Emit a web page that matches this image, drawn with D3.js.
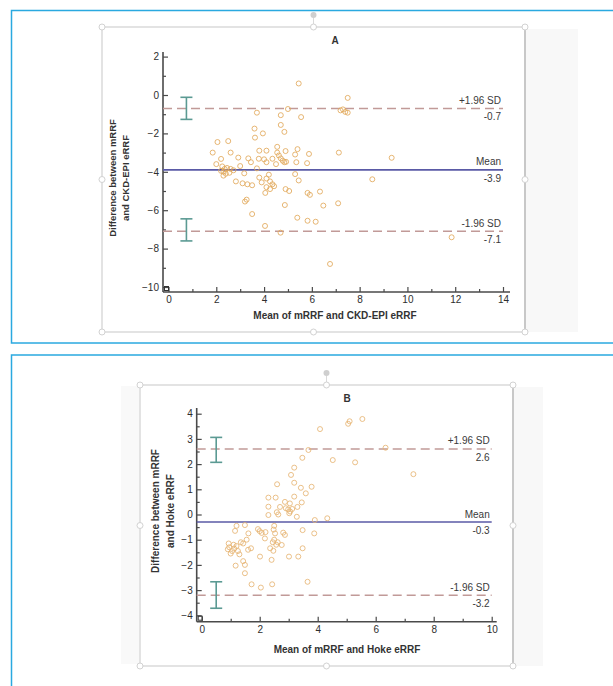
<!DOCTYPE html>
<html><head><meta charset="utf-8">
<script src="https://cdn.jsdelivr.net/npm/d3@7"></script>
<style>
body{margin:0;background:#fff;}
svg{display:block;font-family:'Liberation Sans',Arial,sans-serif;}
.tick text{font-size:10px;fill:#2e2e2e;}
</style></head><body>
<svg id="fig" width="613" height="686"></svg>
<script>
/* ---- data: panel A (mRRF vs CKD-EPI eRRF) ---- */
const ckdMean=[5.45,7.5,7.2,7.3,7.4,7.5,5.0,3.7,4.7,5.55,4.7,4.85,3.6,3.62,3.95,2.05,2.5,1.85,2.6,2.2,
  2.92,3.34,3.45,3.8,4.1,4.55,4.55,4.62,4.9,5.4,5.3,5.88,7.13,3.78,4.0,4.1,4.35,4.7,4.78,4.85,
  4.92,5.35,5.8,2.25,2.35,2.3,2.45,2.6,2.72,2.4,2.3,2.55,2.2,3.17,3.7,2.82,3.1,3.3,3.5,3.8,
  3.9,4.1,4.2,4.25,4.35,4.42,4.1,4.25,4.05,4.9,5.05,5.3,5.45,5.82,5.92,6.34,6.48,7.1,3.2,3.27,
  3.5,4.87,5.39,5.82,6.16,4.04,4.69,8.53,6.76,9.34,11.85,2.0,4.5,3.0];
const ckdDiff=[0.6,-0.15,-0.8,-0.75,-0.88,-0.92,-0.73,-0.92,-1.05,-1.15,-1.56,-1.92,-1.75,-2.22,-2.0,-2.45,-2.4,-3.0,-3.0,-3.33,
  -3.26,-3.3,-3.5,-2.9,-2.9,-2.7,-3.0,-3.15,-2.92,-2.82,-3.1,-3.07,-3.0,-3.32,-3.35,-3.5,-3.32,-3.3,-3.42,-3.5,
  -3.48,-3.5,-3.55,-3.72,-3.85,-4.0,-3.8,-3.85,-3.92,-4.1,-4.2,-4.05,-3.95,-4.08,-3.82,-4.5,-4.6,-4.65,-4.7,-4.3,
  -4.55,-4.35,-4.15,-4.5,-4.65,-4.75,-4.8,-4.9,-5.1,-4.9,-5.0,-4.12,-4.45,-5.1,-5.2,-5.03,-5.76,-5.64,-5.55,-5.45,
  -6.2,-5.73,-6.39,-6.55,-6.6,-6.82,-7.17,-4.39,-8.8,-3.27,-7.41,-3.6,-3.6,-3.7];
const ckdLimits=[-0.7,-3.9,-7.1];
const ckdLimitText=['-0.7','-3.9','-7.1'];
const ckdCI=[[-0.12,-1.27],[-6.45,-7.6]];
const ckdXTicks=[0,2,4,6,8,10,12,14];
const ckdYTicks=[-10,-8,-6,-4,-2,0,2];

/* ---- data: panel B (mRRF vs Hoke eRRF) ---- */
const hokeMean=[5.54,5.05,5.1,4.08,6.34,3.68,3.47,4.52,5.29,7.3,3.19,3.08,3.19,2.6,3.79,3.42,3.59,3.19,2.3,2.55,
  3.45,2.87,3.04,2.3,2.9,2.98,3.05,3.12,3.02,2.59,2.64,2.3,3.28,3.9,4.33,1.49,1.94,2.0,2.07,2.5,
  2.48,2.53,3.48,3.88,2.81,2.87,1.15,1.61,1.55,1.43,2.18,2.5,2.45,2.62,2.57,2.36,2.47,2.76,0.93,0.95,
  0.9,1.05,1.12,1.2,1.25,1.3,1.0,1.7,2.01,3.01,3.33,3.48,2.41,1.43,1.49,1.17,1.49,1.72,2.04,2.43,
  3.65,1.2,1.35,1.6,2.2,2.7,3.3,1.1];
const hokeDiff=[3.79,3.6,3.7,3.39,2.65,2.56,2.25,2.16,2.07,1.6,1.86,1.57,1.26,1.2,1.1,1.06,0.84,0.71,0.67,0.67,
  0.48,0.5,0.44,0.31,0.25,0.2,0.12,0.22,0.05,0.09,0.0,-0.02,-0.09,-0.22,-0.15,-0.42,-0.58,-0.66,-0.73,-0.45,
  -0.6,-0.75,-0.62,-0.75,-0.72,-0.81,-0.65,-0.75,-1.0,-1.15,-0.95,-1.0,-1.1,-1.1,-1.2,-1.34,-1.44,-1.21,-1.15,-1.3,
  -1.38,-1.45,-1.35,-1.25,-1.45,-1.58,-1.55,-1.34,-1.67,-1.67,-1.67,-1.34,-1.8,-1.85,-2.0,-2.03,-2.33,-2.77,-2.9,-2.77,
  -2.67,-0.45,-1.1,-1.4,-0.7,0.3,0.3,-1.2];
const hokeLimits=[2.6,-0.3,-3.2];
const hokeLimitText=['2.6','-0.3','-3.2'];
const hokeCI=[[3.06,2.07],[-2.67,-3.72]];
const hokeXTicks=[0,2,4,6,8,10];
const hokeYTicks=[-4,-3,-2,-1,0,1,2,3,4];

const limitNames=['+1.96 SD','Mean','-1.96 SD'];

const svg=d3.select('#fig');

/* slide-style frame round each picture, with selection handles */
function frame(f){
  const g=svg.append('g');
  g.append('rect').attr('x',f.x0).attr('y',f.y0).attr('width',f.x1-f.x0).attr('height',f.y1-f.y0)
    .attr('fill','#fff').attr('stroke','#dadada').attr('stroke-width',1.5);
  g.append('rect').attr('x',f.x1+1).attr('y',f.y0+2).attr('width',f.strip).attr('height',f.y1-f.y0-2).attr('fill','#f8f8f8');
  g.append('line').attr('x1',f.x1).attr('x2',f.x1).attr('y1',f.y0).attr('y2',f.y1).attr('stroke','#c8c8c8').attr('stroke-width',2);
  const mx=(f.x0+f.x1)/2, my=(f.y0+f.y1)/2;
  g.append('line').attr('x1',mx).attr('x2',mx).attr('y1',f.y0-12).attr('y2',f.y0).attr('stroke','#dadada');
  g.append('circle').attr('cx',mx).attr('cy',f.y0-12).attr('r',3).attr('fill','#cfcfcf');
  [[f.x0,f.y0],[mx,f.y0],[f.x1,f.y0],[f.x0,my],[f.x1,my],[f.x0,f.y1],[mx,f.y1],[f.x1,f.y1]].forEach(p=>
    g.append('circle').attr('cx',p[0]).attr('cy',p[1]).attr('r',3).attr('fill','#fff').attr('stroke','#d2d2d2'));
}

/* one Bland-Altman plot */
function panel(o){
  const g=svg.append('g');
  const x=d3.scaleLinear().domain(o.xDom).range(o.xRange);
  const y=d3.scaleLinear().domain(o.yDom).range(o.yRange);
  const ink='#4a4a4a';

  g.append('g').attr('transform',`translate(${o.axX},0)`)
    .call(d3.axisLeft(y).tickValues(o.yTicks).tickSizeInner(-5).tickSizeOuter(0).tickPadding(4));
  g.append('g').attr('transform',`translate(${o.axX},0)`)
    .call(d3.axisLeft(y).tickValues(o.yMinor).tickSizeInner(-3).tickSizeOuter(0).tickFormat(''));
  g.append('g').attr('transform',`translate(0,${o.axY})`)
    .call(d3.axisBottom(x).tickValues(o.xTicks).tickSizeInner(-5).tickSizeOuter(0).tickPadding(4));
  g.append('g').attr('transform',`translate(0,${o.axY})`)
    .call(d3.axisBottom(x).tickValues(o.xMinor).tickSizeInner(-3).tickSizeOuter(0).tickFormat(''));
  g.selectAll('.domain').remove();
  g.selectAll('.tick line').attr('stroke',ink).attr('stroke-width',1.2);
  g.append('line').attr('x1',o.axX).attr('x2',o.axX).attr('y1',o.yTop).attr('y2',o.axY).attr('stroke',ink).attr('stroke-width',1.6);
  g.append('line').attr('x1',o.axX).attr('x2',o.xEnd).attr('y1',o.axY).attr('y2',o.axY).attr('stroke',ink).attr('stroke-width',1.6);
  g.append('rect').attr('x',o.axX+1.5).attr('y',o.axY-5.5).attr('width',4).attr('height',4)
    .attr('fill','none').attr('stroke','#333').attr('stroke-width',1);

  // limits of agreement
  const xr=x(o.xDom[1]);
  o.limits.forEach((v,i)=>{
    g.append('line').attr('x1',o.axX).attr('x2',xr).attr('y1',y(v)).attr('y2',y(v))
      .attr('stroke',i===1?'#5a5aa6':'#c19a98').attr('stroke-width',i===1?1.6:1.5)
      .attr('stroke-dasharray',i===1?null:'9 5');
    g.append('text').attr('x',xr-2).attr('y',y(v)-4.5).attr('text-anchor','end')
      .attr('font-size',10).attr('fill','#3a3a3a').text(limitNames[i]);
    g.append('text').attr('x',xr-2).attr('y',y(v)+12).attr('text-anchor','end')
      .attr('font-size',10).attr('fill','#3a3a3a').text(o.limitText[i]);
  });

  // confidence bars of the limits
  o.ci.forEach(c=>{
    const cx=x(o.ciX);
    g.append('line').attr('x1',cx).attr('x2',cx).attr('y1',y(c[0])).attr('y2',y(c[1])).attr('stroke','#5b9a93').attr('stroke-width',1.6);
    c.forEach(v=>g.append('line').attr('x1',cx-6).attr('x2',cx+6).attr('y1',y(v)).attr('y2',y(v)).attr('stroke','#5b9a93').attr('stroke-width',1.6));
  });

  // points
  g.append('g').selectAll('circle').data(o.mean.map((m,i)=>[m,o.diff[i]])).join('circle')
    .attr('cx',d=>x(d[0])).attr('cy',d=>y(d[1])).attr('r',2.5)
    .attr('fill','none').attr('stroke',o.dot).attr('stroke-width',1).attr('stroke-opacity',.85);

  // titles
  g.append('text').attr('x',o.title[0]).attr('y',o.title[1]).attr('text-anchor','middle')
    .attr('font-size',10).attr('font-weight','bold').attr('fill','#333').text(o.titleText);
  g.append('text').attr('x',o.xLab[0]).attr('y',o.xLab[1]).attr('text-anchor','middle')
    .attr('font-size',10).attr('font-weight','bold').attr('fill','#333').text(o.xLabText);
  o.yLabText.forEach((t,i)=>{
    g.append('text').attr('transform',`translate(${o.yLab[0]+i*o.yLab[2]},${o.yLab[1]}) rotate(-90)`)
      .attr('text-anchor','middle').attr('font-size',o.yLabSize).attr('font-weight','bold').attr('fill','#333').text(t);
  });
}

// blue page borders
svg.append('rect').attr('x',11.5).attr('y',10.5).attr('width',640).attr('height',332.5)
  .attr('fill','none').attr('stroke','#2aa9e0').attr('stroke-width',1.5);
svg.append('rect').attr('x',11.5).attr('y',355).attr('width',640).attr('height',400)
  .attr('fill','none').attr('stroke','#2aa9e0').attr('stroke-width',1.5);

frame({x0:102,y0:27,x1:525,y1:332,strip:52});
svg.append('rect').attr('x',121).attr('y',386).attr('width',18).attr('height',278).attr('fill','#f9f9f9');
frame({x0:140,y0:385,x1:513,y1:666,strip:29});

panel({xDom:[0,14],xRange:[168.5,503],yDom:[-10,2],yRange:[287,56.6],
  axX:163,axY:292,yTop:52,xEnd:510,
  xTicks:ckdXTicks,xMinor:d3.range(1,14,2),yTicks:ckdYTicks,yMinor:d3.range(-9,2,2),
  limits:ckdLimits,limitText:ckdLimitText,ci:ckdCI,ciX:0.75,
  mean:ckdMean,diff:ckdDiff,dot:'#e2a95c',
  title:[335,43.5],titleText:'A',xLab:[335,318.5],xLabText:'Mean of mRRF and CKD-EPI eRRF',
  yLab:[115.5,178,13],yLabSize:9.5,yLabText:['Difference between mRRF','and CKD-EPI eRRF']});

panel({xDom:[0,10],xRange:[201.7,491.7],yDom:[-4,4],yRange:[615.3,413.7],
  axX:196.7,axY:621.7,yTop:408,xEnd:496.7,
  xTicks:hokeXTicks,xMinor:d3.range(1,10,2),yTicks:hokeYTicks,yMinor:d3.range(-3.5,4,1),
  limits:hokeLimits,limitText:hokeLimitText,ci:hokeCI,ciX:0.5,
  mean:hokeMean,diff:hokeDiff,dot:'#e6b574',
  title:[347,401.5],titleText:'B',xLab:[347,652.5],xLabText:'Mean of mRRF and Hoke eRRF',
  yLab:[158.5,511,15.5],yLabSize:10,yLabText:['Difference between mRRF','and Hoke eRRF']});
</script>
</body></html>
